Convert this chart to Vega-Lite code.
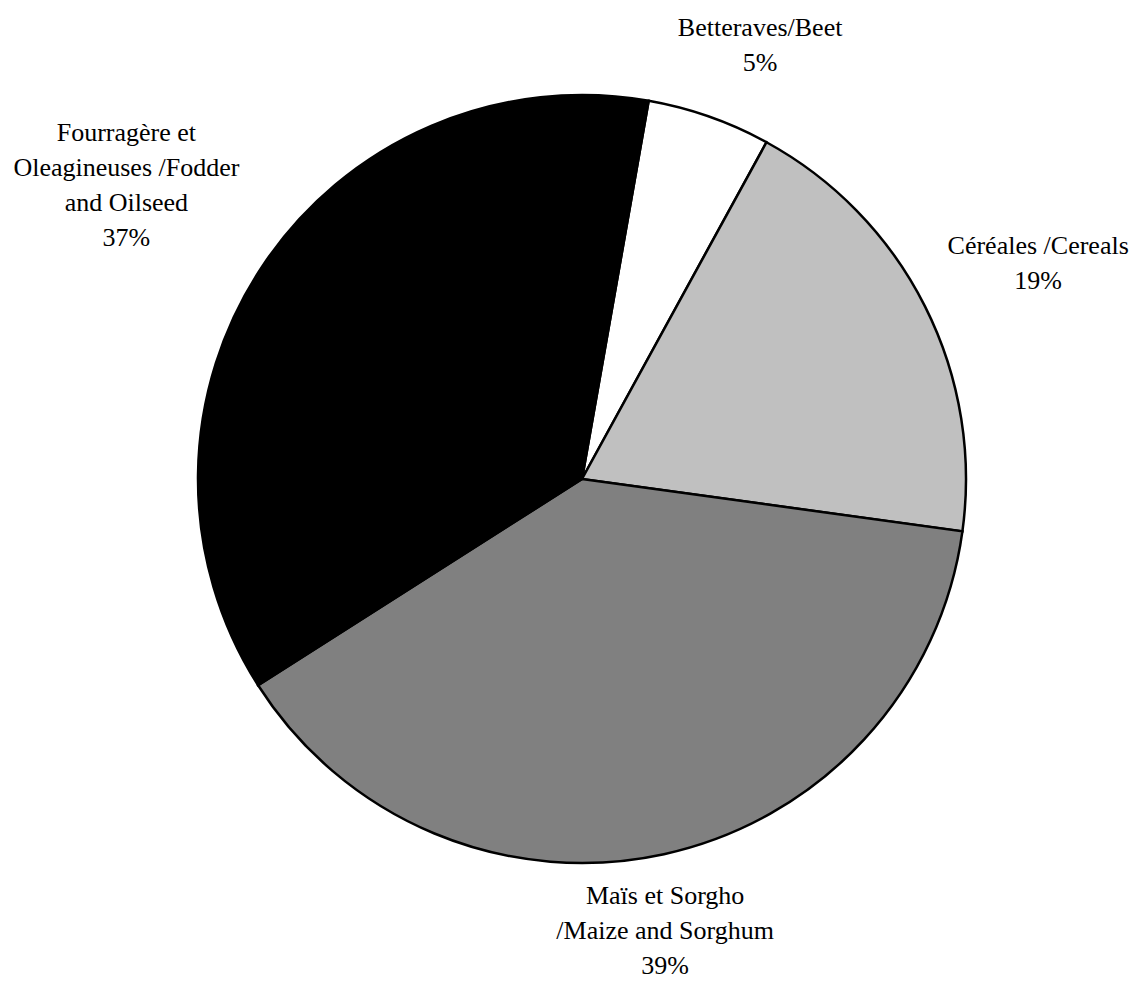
{
  "$schema": "https://vega.github.io/schema/vega-lite/v6.json",
  "width": 1116,
  "height": 958,
  "padding": {"left": 24, "top": 0, "right": 0, "bottom": 23},
  "autosize": "none",
  "background": "white",
  "config": {"view": {"stroke": null}},
  "data": {
    "values": [
      {"cat": "Beet", "rank": 1, "value": 5.2, "label": "Betteraves/Beet\n5%"},
      {"cat": "Cereals", "rank": 2, "value": 19.2, "label": "Céréales /Cereals\n19%"},
      {"cat": "Maize", "rank": 3, "value": 38.8, "label": "Maïs et Sorgho\n/Maize and Sorghum\n39%"},
      {"cat": "Fodder", "rank": 4, "value": 36.8, "label": "Fourragère et\nOleagineuses /Fodder\nand Oilseed\n37%"}
    ]
  },
  "encoding": {
    "theta": {"field": "value", "type": "quantitative", "stack": true, "scale": {"range": [0.1745, 6.4577]}},
    "order": {"field": "rank", "type": "quantitative"}
  },
  "layer": [
    {
      "mark": {"type": "arc", "outerRadius": 384, "stroke": "black", "strokeWidth": 2.5},
      "encoding": {
        "color": {"field": "cat", "type": "nominal", "legend": null,
          "scale": {"domain": ["Beet", "Cereals", "Maize", "Fodder"], "range": ["#ffffff", "#c0c0c0", "#808080", "#000000"]}}
      }
    },
    {
      "mark": {"type": "text", "radius": 468, "dx": 23, "dy": -9.5, "font": "Liberation Serif", "fontSize": 26, "lineHeight": 35, "lineBreak": "\n", "color": "black", "align": "center", "baseline": "middle"},
      "encoding": {"text": {"condition": {"test": "datum.cat === 'Beet'", "field": "label"}, "value": ""}}
    },
    {
      "mark": {"type": "text", "radius": 504, "dx": 6, "dy": -6.5, "font": "Liberation Serif", "fontSize": 26, "lineHeight": 35, "lineBreak": "\n", "color": "black", "align": "center", "baseline": "middle"},
      "encoding": {"text": {"condition": {"test": "datum.cat === 'Cereals'", "field": "label"}, "value": ""}}
    },
    {
      "mark": {"type": "text", "radius": 460, "dx": -15, "dy": -32, "font": "Liberation Serif", "fontSize": 26, "lineHeight": 35, "lineBreak": "\n", "color": "black", "align": "center", "baseline": "middle"},
      "encoding": {"text": {"condition": {"test": "datum.cat === 'Maize'", "field": "label"}, "value": ""}}
    },
    {
      "mark": {"type": "text", "radius": 542, "dx": -5, "dy": -44.5, "font": "Liberation Serif", "fontSize": 26, "lineHeight": 35, "lineBreak": "\n", "color": "black", "align": "center", "baseline": "middle"},
      "encoding": {"text": {"condition": {"test": "datum.cat === 'Fodder'", "field": "label"}, "value": ""}}
    }
  ]
}
